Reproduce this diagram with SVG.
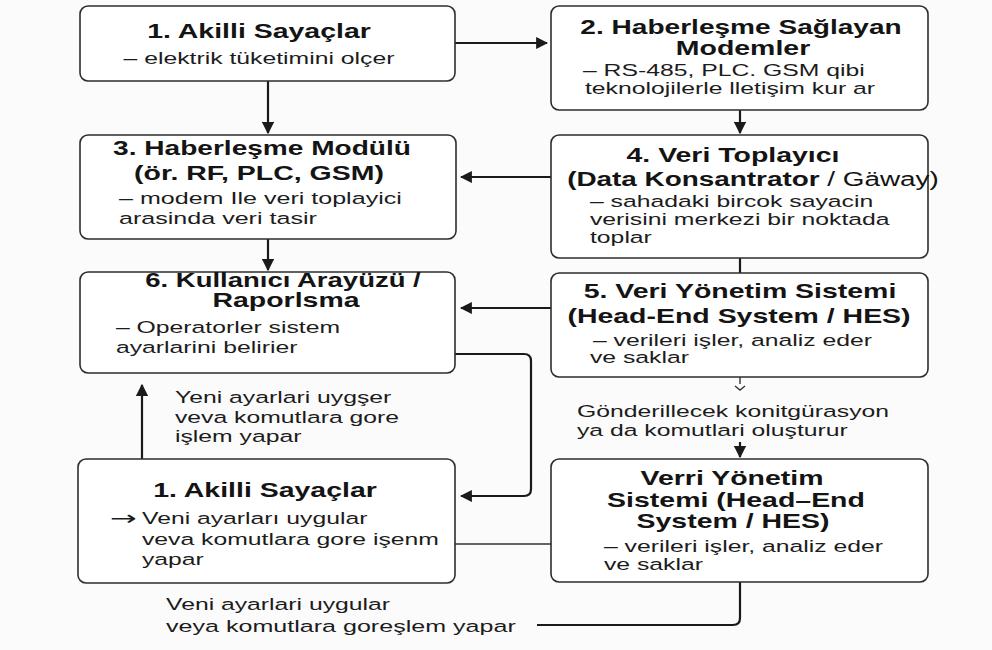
<svg xmlns="http://www.w3.org/2000/svg" width="992" height="650" viewBox="0 0 992 650">
<defs>
<style>
.box{fill:#ffffff;stroke:#2e2e2e;stroke-width:1.6}
.t{font-family:"Liberation Sans",Arial,sans-serif;font-weight:bold;font-size:19.5px;fill:#141414;text-anchor:middle}
.s{font-family:"Liberation Sans",Arial,sans-serif;font-size:16.5px;fill:#1c1c1c}
.c{text-anchor:middle}
.arr{font-family:"DejaVu Sans",sans-serif;font-size:20px;fill:#1c1c1c}
.ln{fill:none;stroke:#1a1a1a;stroke-width:2.2}
.thin{fill:none;stroke:#333;stroke-width:1.4}
</style>
<marker id="ah" viewBox="0 0 10 10" refX="9" refY="5" markerWidth="5.5" markerHeight="5.5" orient="auto" markerUnits="strokeWidth">
<path d="M0,0 L10,5 L0,10 z" fill="#1a1a1a"/>
</marker>
</defs>
<rect width="992" height="650" fill="#fbfbfb"/>

<g id="connectors">
<line class="ln" x1="455" y1="43" x2="547" y2="43" marker-end="url(#ah)"/>
<line class="ln" x1="268" y1="81" x2="268" y2="133" marker-end="url(#ah)"/>
<line class="ln" x1="740" y1="110" x2="740" y2="133" marker-end="url(#ah)"/>
<line class="ln" x1="551" y1="177" x2="461" y2="177" marker-end="url(#ah)"/>
<line class="ln" x1="268" y1="239" x2="268" y2="270" marker-end="url(#ah)"/>
<line class="ln" x1="740" y1="258" x2="740" y2="273"/>
<line class="ln" x1="551" y1="308" x2="461" y2="308" marker-end="url(#ah)"/>
<path class="ln" d="M455,354 H524 Q531,354 531,361 V489 Q531,496 524,496 H461" marker-end="url(#ah)"/>
<line class="ln" x1="142" y1="460" x2="142" y2="385" marker-end="url(#ah)"/>
<line class="thin" x1="740" y1="377" x2="740" y2="384"/>
<path class="thin" d="M735,386 L740,390 L745,386"/>
<line class="ln" x1="740" y1="442" x2="740" y2="457" marker-end="url(#ah)"/>
<line class="thin" x1="455" y1="544" x2="551" y2="544"/>
<path class="ln" d="M740,582 V618 Q740,625 733,625 H537"/>
</g>

<g id="n1">
<rect class="box" x="80" y="6" width="375" height="75" rx="8"/>
<text class="t" transform="matrix(1.46 0 0 1 259 38)">1. Akilli Sayaçlar</text>
<text class="s c" transform="matrix(1.5 0 0 1 259 64)">– elektrik tüketimini olçer</text>
</g>

<g id="n2">
<rect class="box" x="551" y="6" width="377" height="104" rx="8"/>
<text class="t" transform="matrix(1.44 0 0 1 741 34)">2. Haberleşme Sağlayan</text>
<text class="t" transform="matrix(1.46 0 0 1 743 55)">Modemler</text>
<text class="s" transform="matrix(1.5 0 0 1 583 76)">– RS-485, PLC. GSM qibi</text>
<text class="s" transform="matrix(1.5 0 0 1 585 94)">teknolojilerle lletişim kur ar</text>
</g>

<g id="n3">
<rect class="box" x="80" y="135" width="376" height="104" rx="8"/>
<text class="t" transform="matrix(1.44 0 0 1 262 155)">3. Haberleşme Modülü</text>
<text class="t" transform="matrix(1.46 0 0 1 259 180)">(ör. RF, PLC, GSM)</text>
<text class="s" transform="matrix(1.52 0 0 1 119 204)">– modem Ile veri toplayici</text>
<text class="s" transform="matrix(1.52 0 0 1 119 224)">arasinda veri tasir</text>
</g>

<g id="n4">
<rect class="box" x="551" y="135" width="377" height="123" rx="8"/>
<text class="t" transform="matrix(1.46 0 0 1 733 162)">4. Veri Toplayıcı</text>
<text class="t" transform="matrix(1.43 0 0 1 753 186)">(Data Konsantrator <tspan font-weight="normal">/ Gäway)</tspan></text>
<text class="s" transform="matrix(1.5 0 0 1 590 207)">– sahadaki bircok sayacin</text>
<text class="s" transform="matrix(1.5 0 0 1 590 225)">verisini merkezi bir noktada</text>
<text class="s" transform="matrix(1.5 0 0 1 590 243)">toplar</text>
</g>

<g id="n5">
<rect class="box" x="551" y="273" width="377" height="104" rx="8"/>
<text class="t" transform="matrix(1.46 0 0 1 740 298)">5. Veri Yönetim Sistemi</text>
<text class="t" transform="matrix(1.46 0 0 1 739 323)">(Head-End System / HES)</text>
<text class="s" transform="matrix(1.5 0 0 1 593 346)">– verileri işler, analiz eder</text>
<text class="s" transform="matrix(1.5 0 0 1 590 363)">ve saklar</text>
</g>

<g id="n6">
<rect class="box" x="80" y="272" width="375" height="101" rx="8"/>
<text class="t" transform="matrix(1.41 0 0 1 283 287)">6. Kullanıcı Arayüzü /</text>
<text class="t" transform="matrix(1.46 0 0 1 286 307)">Raporlsma</text>
<text class="s" transform="matrix(1.5 0 0 1 116 333)">– Operatorler sistem</text>
<text class="s" transform="matrix(1.5 0 0 1 116 353)">ayarlarini belirier</text>
</g>

<g id="lbl-up">
<text class="s" transform="matrix(1.5 0 0 1 175 403)">Yeni ayarlari uygşer</text>
<text class="s" transform="matrix(1.5 0 0 1 175 423)">veva komutlara gore</text>
<text class="s" transform="matrix(1.5 0 0 1 175 442)">işlem yapar</text>
</g>

<g id="lbl-mid">
<text class="s" transform="matrix(1.5 0 0 1 577 417)">Gönderillecek konitgürasyon</text>
<text class="s" transform="matrix(1.5 0 0 1 577 436)">ya da komutlari oluşturur</text>
</g>

<g id="n7">
<rect class="box" x="78" y="459" width="377" height="124" rx="8"/>
<text class="t" transform="matrix(1.46 0 0 1 265 497)">1. Akilli Sayaçlar</text>
<text class="arr" transform="matrix(1.6 0 0 1 110 525)">→</text>
<text class="s" transform="matrix(1.5 0 0 1 142 524)">Veni ayarları uygular</text>
<text class="s" transform="matrix(1.5 0 0 1 142 545)">veva komutlara gore işenm</text>
<text class="s" transform="matrix(1.5 0 0 1 142 565)">yapar</text>
</g>

<g id="n8">
<rect class="box" x="551" y="459" width="377" height="123" rx="8"/>
<text class="t" transform="matrix(1.46 0 0 1 732 485)">Verri Yönetim</text>
<text class="t" transform="matrix(1.46 0 0 1 736 507)">Sistemi (Head–End</text>
<text class="t" transform="matrix(1.46 0 0 1 733 528)">System / HES)</text>
<text class="s" transform="matrix(1.5 0 0 1 604 552)">– verileri işler, analiz eder</text>
<text class="s" transform="matrix(1.5 0 0 1 604 570)">ve saklar</text>
</g>

<g id="lbl-bottom">
<text class="s" transform="matrix(1.5 0 0 1 166 610)">Veni ayarlari uygular</text>
<text class="s" transform="matrix(1.52 0 0 1 166 632)">veya komutlara goreşlem yapar</text>
</g>
</svg>
